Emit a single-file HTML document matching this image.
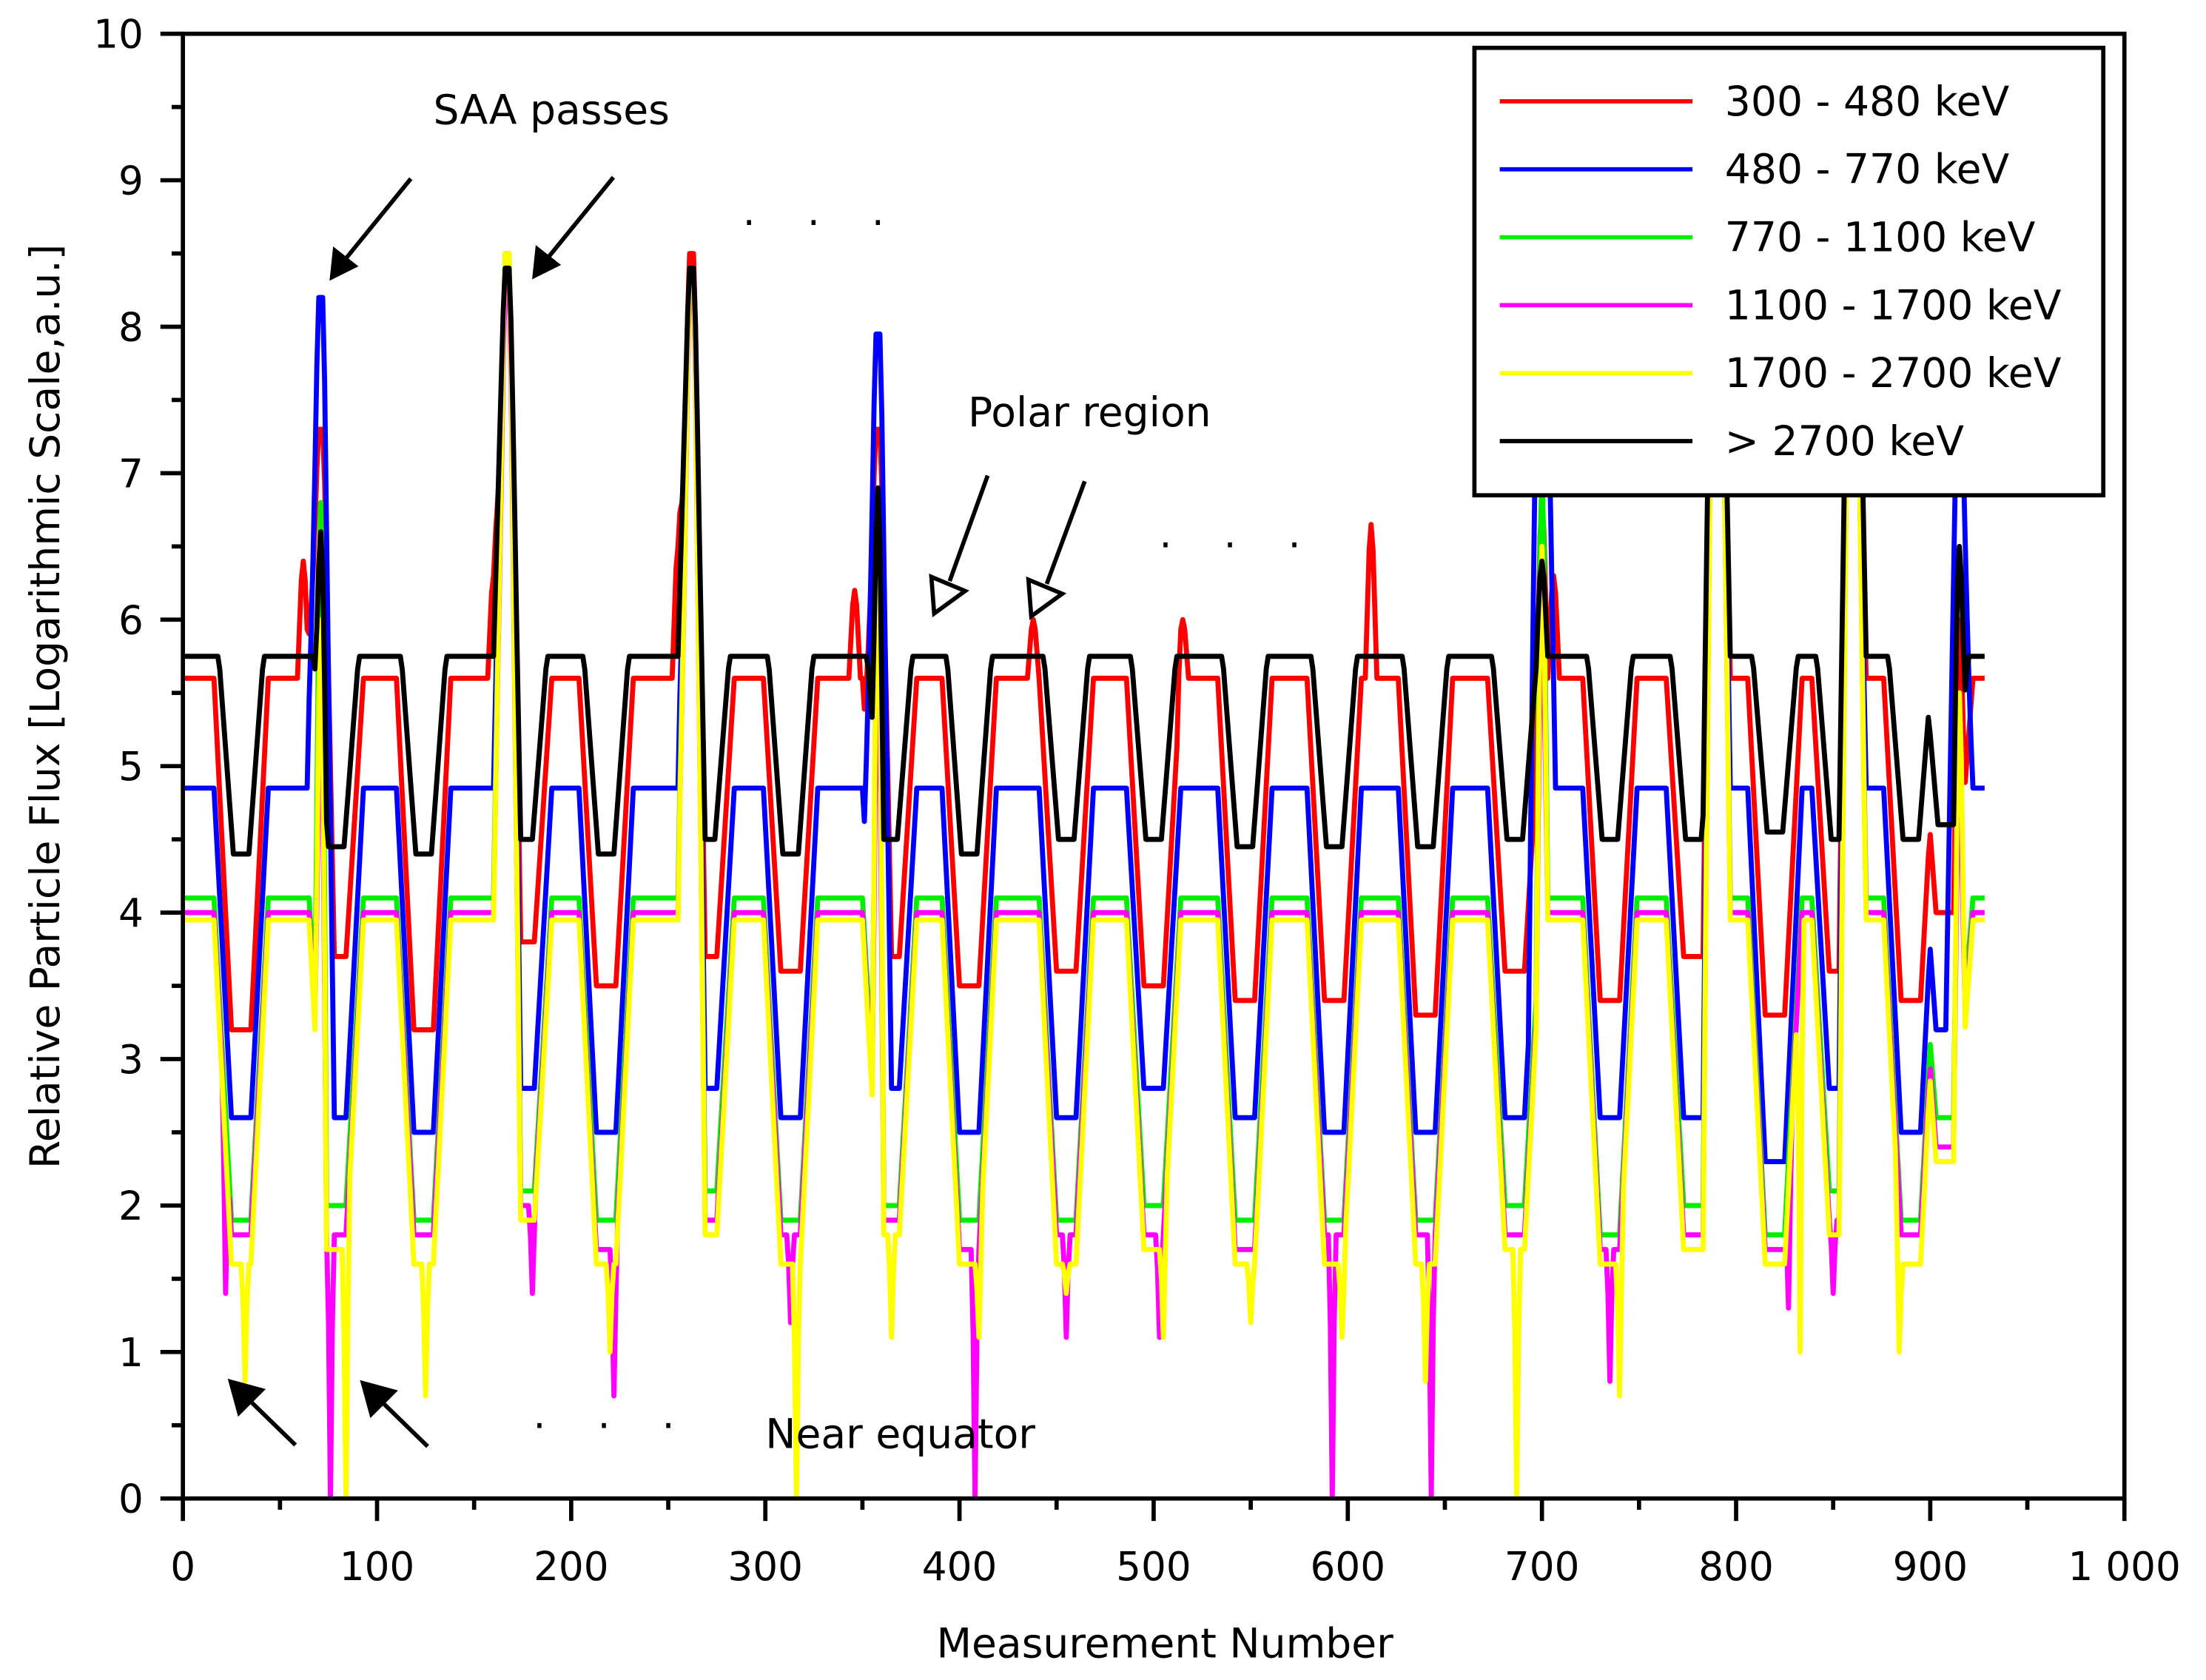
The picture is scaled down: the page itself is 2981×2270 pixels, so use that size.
<!DOCTYPE html>
<html><head><meta charset="utf-8">
<style>
html,body{margin:0;padding:0;background:#fff;}
svg{display:block;}
text{font-family:"DejaVu Sans","Liberation Sans",sans-serif;fill:#000;}
</style></head>
<body>
<svg id="chart" width="2981" height="2270" viewBox="0 0 1568 1194" xmlns="http://www.w3.org/2000/svg">
<rect x="0" y="0" width="1568" height="1194" fill="#fff"/>
<g id="series"></g>
<g id="axes"></g>
<g id="legend"></g>
<g id="annot">
  <text x="308" y="88" font-size="29">SAA passes</text>
  <text x="688" y="303" font-size="29">Polar region</text>
  <text x="544" y="1029" font-size="29">Near equator</text>
  <text x="528" y="168" font-size="28" letter-spacing="14">· · ·</text>
  <text x="824" y="397" font-size="28" letter-spacing="14">· · ·</text>
  <text x="379" y="1023" font-size="28" letter-spacing="14">· · ·</text>
  <g stroke="#000" stroke-width="3" fill="#000">
    <line x1="292" y1="127" x2="244" y2="186"/>
    <polygon points="236,197 238,178 252,189"/>
    <line x1="436" y1="126" x2="388" y2="185"/>
    <polygon points="380,196 382,177 396,188"/>
    <line x1="210" y1="1027" x2="175" y2="993"/>
    <polygon points="164,982 186,988 170,1004"/>
    <line x1="304" y1="1028" x2="269" y2="994"/>
    <polygon points="258,983 280,989 264,1005"/>
    <line x1="702" y1="338" x2="675" y2="413"/>
    <polygon points="664,436 662,410 686,420" fill="#fff"/>
    <line x1="771" y1="342" x2="744" y2="415"/>
    <polygon points="733,438 731,412 755,422" fill="#fff"/>
  </g>
</g>
</svg>
<script>
// ---- data ----
const seriesNames = ["300 - 480 keV","480 - 770 keV","770 - 1100 keV","1100 - 1700 keV","1700 - 2700 keV","> 2700 keV"];
const seriesColors = ["#ff0000","#0000ff","#00ee00","#ff00ff","#ffff00","#000000"];
const plateauLevels = [5.6, 4.85, 4.1, 4.0, 3.95, 5.75];
const dipCenters = [30,79,124,176,218,270,313,364,405,455,500,547,593,640,686,735,778,820,853,890,908];
const dipRed   = [3.2,3.7,3.2,3.8,3.5,3.7,3.6,3.7,3.5,3.6,3.5,3.4,3.4,3.3,3.6,3.4,3.7,3.3,3.6,3.4,4.0];
const dipBlue  = [2.6,2.6,2.5,2.8,2.5,2.8,2.6,2.8,2.5,2.6,2.8,2.6,2.5,2.5,2.6,2.6,2.6,2.3,2.8,2.5,3.2];
const dipGreen = [1.9,2.0,1.9,2.1,1.9,2.1,1.9,2.0,1.9,1.9,2.0,1.9,1.9,1.9,2.0,1.8,2.0,1.8,2.1,1.9,2.6];
const dipMag   = [1.8,1.8,1.8,2.0,1.7,1.9,1.8,1.9,1.7,1.8,1.8,1.7,1.8,1.8,1.8,1.7,1.8,1.7,1.9,1.8,2.4];
const dipYel   = [1.6,1.7,1.6,1.9,1.6,1.8,1.6,1.8,1.6,1.6,1.7,1.6,1.6,1.6,1.7,1.6,1.7,1.6,1.8,1.6,2.3];
const dipBlack = [4.4,4.45,4.4,4.5,4.4,4.5,4.4,4.5,4.4,4.5,4.5,4.45,4.45,4.45,4.5,4.5,4.5,4.55,4.5,4.5,4.6];
const spikeX     = [62, 71, 160, 167, 255, 262, 346, 358, 438, 515, 612, 700, 706, 790, 860, 915];
const spikeRed   = [6.4,7.3,6.3,8.4,6.5,8.5,6.2,7.3,6.0,6.0,6.65,6.8,6.3,9.5,9.5,6.0];
const spikeBlue  = [0,  8.2, 0, 8.35, 0, 8.4, 0, 7.95, 0, 0, 0, 9.0, 0, 9.5,9.5,7.5];
const spikeGreen = [0,  6.8, 0, 8.5, 0, 8.4, 0, 6.5, 0, 0, 0, 7.0, 0, 9.5,9.5,5.0];
const spikeMag   = [0,  5.5, 0, 8.3, 0, 8.3, 0, 6.0, 0, 0, 0, 6.0, 0, 9.5,9.5,5.0];
const spikeYel   = [0,  6.0, 0, 8.5, 0, 8.4, 0, 6.8, 0, 0, 0, 6.5, 0, 9.5,9.5,5.5];
const spikeBlack = [0,  6.6, 0, 8.4, 0, 8.4, 0, 6.9, 0, 0, 0, 6.4, 0, 9.5,9.5,6.5];
const magDropX = [22, 76, 180, 222, 313, 408, 455, 503, 592, 643, 735, 827, 850];
const magDropV = [1.4, 0, 1.4, 0.7, 1.2, 0, 1.1, 1.1, 0, 0, 0.8, 1.3, 1.4];
const yelDropX = [32, 84, 125, 220, 316, 365, 410, 455, 505, 550, 597, 640, 687, 740, 833, 884];
const yelDropV = [0.8, 0, 0.7, 1.0, 0, 1.1, 1.1, 1.4, 1.1, 1.2, 1.1, 0.8, 0, 0.7, 1.0, 1.0];
const xTicks = [0,100,200,300,400,500,600,700,800,900,1000];
const xTickLabels = ["0","100","200","300","400","500","600","700","800","900","1 000"];
const yTicks = [0,1,2,3,4,5,6,7,8,9,10];
const nPoints = 928;

// ---- axes functions ----
const X0=130, X1=1510, Y0=1065, Y1=24;
function sx(v){ return X0 + (v/1000)*(X1-X0); }
function sy(v){ return Y0 - (v/10)*(Y0-Y1); }
const NS="http://www.w3.org/2000/svg";
function mk(tag, attrs, parent){ const e=document.createElementNS(NS,tag); for(const k in attrs) e.setAttribute(k,attrs[k]); parent.appendChild(e); return e; }

const dipSets=[dipRed,dipBlue,dipGreen,dipMag,dipYel,dipBlack];
const spikeSets=[spikeRed,spikeBlue,spikeGreen,spikeMag,spikeYel,spikeBlack];

function valueAt(si, x){
  const plat = plateauLevels[si];
  const black = si===5;
  const half = black?4:5, ramp = black?7.5:9;
  let v = plat;
  for(let d=0; d<dipCenters.length; d++){
    const dist = Math.abs(x-dipCenters[d]);
    const lo = dipSets[si][d];
    let w;
    if(dist<=half) w=lo;
    else if(dist<half+ramp) w = lo + (plat-lo)*((dist-half)/ramp);
    else continue;
    v = Math.min(v,w);
  }
  for(let k=0;k<spikeX.length;k++){
    const pk = spikeSets[si][k]; if(!pk) continue;
    const big = pk>7, hw = big?7:3;
    const dist=Math.abs(x-spikeX[k]);
    if(dist<hw){ const f=1-dist/hw; v=Math.max(v, v+(pk-v)*Math.min(1,f*1.25)); }
  }
  if(si===3) for(let k=0;k<magDropX.length;k++){ const dist=Math.abs(x-magDropX[k]); if(dist<1.5) v=Math.min(v, magDropV[k]+(v-magDropV[k])*(dist/1.5)); }
  if(si===4) for(let k=0;k<yelDropX.length;k++){ const dist=Math.abs(x-yelDropX[k]); if(dist<1.5) v=Math.min(v, yelDropV[k]+(v-yelDropV[k])*(dist/1.5)); }
  return Math.max(0, Math.min(10.3, v));
}

// ---- series ----
const sg=document.getElementById('series');
const clip=mk('clipPath',{id:'plotclip'},sg);
mk('rect',{x:X0,y:Y1,width:X1-X0,height:Y0-Y1},clip);
[0,1,2,3,4,5].forEach(si=>{
  let d="";
  for(let x=0;x<=nPoints;x++){ d += (x?"L":"M")+sx(x).toFixed(2)+","+sy(valueAt(si,x)).toFixed(2); }
  const p=mk('path',{d:d,fill:'none',stroke:seriesColors[si],'stroke-width':3.6,'stroke-linejoin':'round','clip-path':'url(#plotclip)'},sg);
  
  
});

// ---- axes ----
const ag=document.getElementById('axes');
const frame=mk('rect',{x:X0,y:Y1,width:X1-X0,height:Y0-Y1,fill:'none',stroke:'#000','stroke-width':3},ag);


for(let v=0; v<=1050; v+=50){
  const major = v%100===0;
  const t=mk('line',{x1:sx(v),x2:sx(v),y1:Y0,y2:Y0+(major?16:8),stroke:'#000','stroke-width':3},ag);
  
  
}
xTicks.forEach((v,i)=>{
  const t=mk('text',{x:sx(v),y:Y0+58,'font-size':28,'text-anchor':'middle'},ag);
  t.textContent=xTickLabels[i];
  
  
});
for(let v=0; v<=10; v+=0.5){
  const major = Math.abs(v-Math.round(v))<1e-6;
  const t=mk('line',{x1:X0-(major?16:8),x2:X0,y1:sy(v),y2:sy(v),stroke:'#000','stroke-width':3},ag);
  
  
}
yTicks.forEach(v=>{
  const t=mk('text',{x:X0-28,y:sy(v)+10,'font-size':28,'text-anchor':'end'},ag);
  t.textContent=String(v);
  
  
});
const xt=mk('text',{x:828,y:1178,'font-size':29,'text-anchor':'middle'},ag);
xt.textContent="Measurement Number";


const yt=mk('text',{x:0,y:0,'font-size':29,'text-anchor':'middle',transform:'translate(42,502) rotate(-90)'},ag);
yt.textContent="Relative Particle Flux [Logarithmic Scale,a.u.]";



// ---- legend ----
const lg=document.getElementById('legend');
const lb=mk('rect',{x:1048,y:34,width:447,height:318,fill:'#fff',stroke:'#000','stroke-width':3},lg);


seriesNames.forEach((n,i)=>{
  const y=72+i*48.3;
  const l=mk('line',{x1:1066,x2:1203,y1:y,y2:y,stroke:seriesColors[i],'stroke-width':3},lg);
  
  
  const t=mk('text',{x:1226,y:y+10,'font-size':29},lg);
  t.textContent=n;
  
  
});
</script>
</body></html>
